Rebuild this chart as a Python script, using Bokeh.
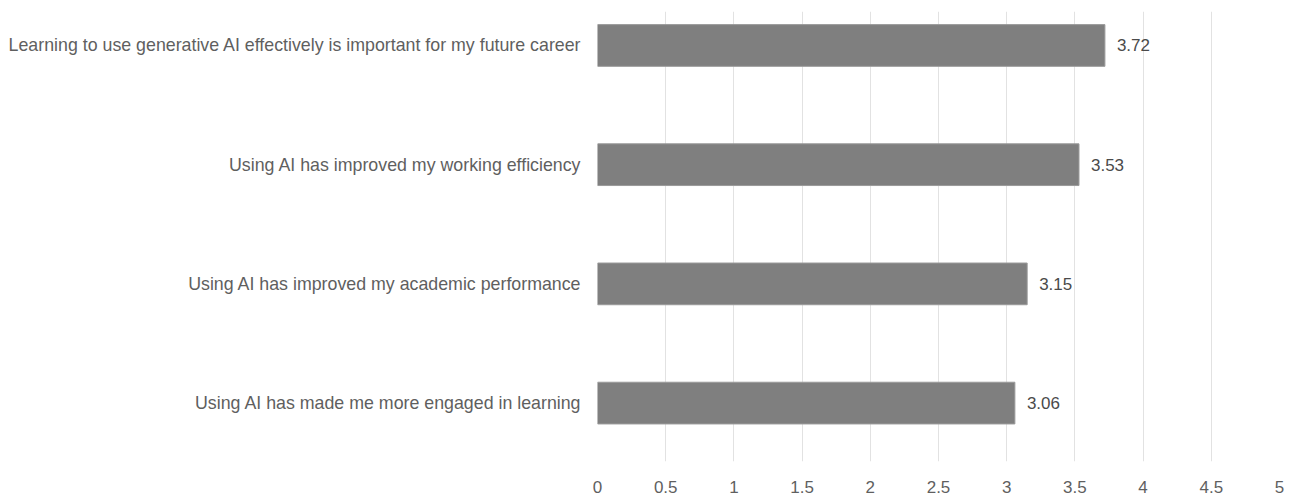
from bokeh.plotting import figure
from bokeh.models import ColumnDataSource, Range1d, FixedTicker, LabelSet
from bokeh.core.properties import value
from bokeh.embed import file_html
from bokeh.resources import INLINE

categories = [
    "Learning to use generative AI effectively is important for my future career",
    "Using AI has improved my working efficiency",
    "Using AI has improved my academic performance",
    "Using AI has made me more engaged in learning",
]
values = [3.72, 3.53, 3.15, 3.06]
x_ticks = [0, 0.5, 1, 1.5, 2, 2.5, 3, 3.5, 4, 4.5, 5]

n = len(categories)
ypos = [n - 1 - i for i in range(n)]
src = ColumnDataSource(dict(y=ypos, v=values, lab=[f"{v:.2f}" for v in values]))

p = figure(width=1291, height=495, output_backend="svg", toolbar_location=None,
           x_range=Range1d(0, 5), y_range=Range1d(-0.49, 3.285),
           min_border_left=597, min_border_right=12, min_border_top=11, min_border_bottom=33)
p.outline_line_color = None
p.background_fill_color = "white"
p.border_fill_color = "white"

p.hbar(y="y", right="v", left=0, height=0.35, source=src,
       fill_color="#7f7f7f", line_color="#9a9a9a", line_width=1)

labels = LabelSet(x="v", y="y", text="lab", source=src, x_offset=12,
                  text_baseline="middle", text_align="left",
                  text_font=value("Liberation Sans"), text_font_size="17px", text_color="#4a4a4a")
p.add_layout(labels)

p.xaxis.ticker = FixedTicker(ticks=x_ticks)
p.xaxis.major_label_overrides = {t: (str(t) if t != int(t) else str(int(t))) for t in x_ticks}
p.xaxis.axis_line_color = None
p.xaxis.major_tick_line_color = None
p.xaxis.minor_tick_line_color = None
p.xaxis.major_label_standoff = 13
p.xaxis.major_label_text_font = "Liberation Sans"
p.xaxis.major_label_text_font_size = "17px"
p.xaxis.major_label_text_color = "#5f5f5f"

p.yaxis.ticker = FixedTicker(ticks=ypos)
p.yaxis.major_label_overrides = {y: c for y, c in zip(ypos, categories)}
p.yaxis.axis_line_color = None
p.yaxis.major_tick_line_color = None
p.yaxis.minor_tick_line_color = None
p.yaxis.major_label_standoff = 10
p.yaxis.major_label_text_font = "Liberation Sans"
p.yaxis.major_label_text_font_size = "17.8px"
p.yaxis.major_label_text_color = "#5f5f5f"

p.xgrid.grid_line_color = "#e2e2e2"
p.xgrid.grid_line_width = 1
p.ygrid.grid_line_color = None

open("out.html", "w").write(file_html(p, INLINE))
